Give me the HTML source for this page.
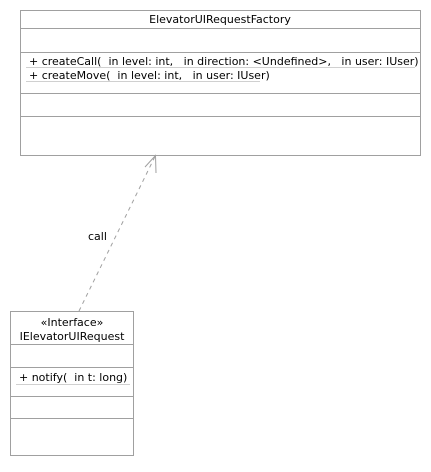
<!DOCTYPE html>
<html><head><style>
body{margin:0;background:#fff;width:431px;height:467px;overflow:hidden}
svg text{font-family:"DejaVu Sans","Liberation Sans",sans-serif;font-size:11px;fill:#000}
</style></head><body>
<svg width="431" height="467" xmlns="http://www.w3.org/2000/svg">
<g fill="none" stroke="#a0a0a0" stroke-width="1">
<rect x="20.5" y="10.5" width="400" height="145"/>
<line x1="20" y1="28.5" x2="421" y2="28.5"/>
<line x1="20" y1="52.5" x2="421" y2="52.5"/>
<line x1="20" y1="93.5" x2="421" y2="93.5"/>
<line x1="20" y1="116.5" x2="421" y2="116.5"/>
<line x1="26" y1="67.5" x2="415" y2="67.5" stroke="#d0d0d0"/>
<line x1="26" y1="81.5" x2="260" y2="81.5" stroke="#d0d0d0"/>
<rect x="10.5" y="311.5" width="123" height="144"/>
<line x1="10" y1="344.5" x2="134" y2="344.5"/>
<line x1="10" y1="367.5" x2="134" y2="367.5"/>
<line x1="10" y1="396.5" x2="134" y2="396.5"/>
<line x1="10" y1="418.5" x2="134" y2="418.5"/>
<line x1="16" y1="384.5" x2="130" y2="384.5" stroke="#d0d0d0"/>
<line x1="79" y1="311" x2="155.5" y2="155.5" stroke-dasharray="4,4"/>
<polyline points="145,167 155.5,155.5 156,173"/>
</g>
<text x="220" y="23" text-anchor="middle">ElevatorUIRequestFactory</text>
<text x="29" y="65" xml:space="preserve">+ createCall(  in level: int,   in direction: &lt;Undefined&gt;,   in user: IUser)</text>
<text x="29" y="79" xml:space="preserve">+ createMove(  in level: int,   in user: IUser)</text>
<text x="72" y="326" text-anchor="middle">«Interface»</text>
<text x="72" y="340" text-anchor="middle">IElevatorUIRequest</text>
<text x="19" y="381" xml:space="preserve">+ notify(  in t: long)</text>
<text x="88" y="240">call</text>
</svg>
</body></html>
